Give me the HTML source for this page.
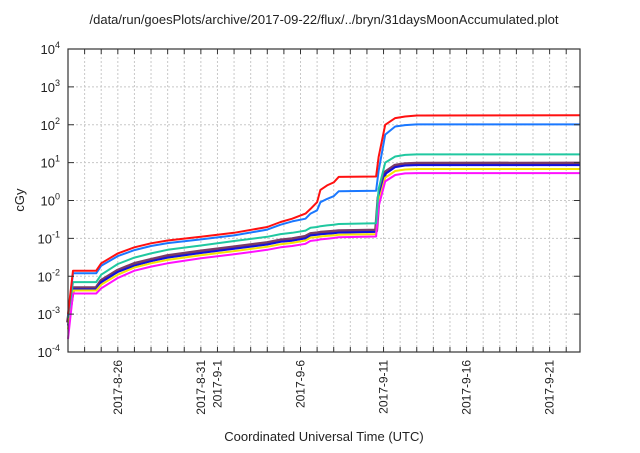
<!DOCTYPE html>
<html><head><meta charset="utf-8"><style>
body{margin:0;background:#fff;}
svg text{font-family:"Liberation Sans",sans-serif;fill:#222;}
</style></head><body>
<svg id="chart" width="640" height="448" xmlns="http://www.w3.org/2000/svg">
<text x="324" y="24" font-size="13" text-anchor="middle">/data/run/goesPlots/archive/2017-09-22/flux/../bryn/31daysMoonAccumulated.plot</text>
<text transform="translate(24,200) rotate(-90)" font-size="13" text-anchor="middle">cGy</text>
<text x="324" y="441" font-size="13" text-anchor="middle">Coordinated Universal Time (UTC)</text>
<g id="grid"></g>
<g id="series"></g>
<g id="axes"></g>
</svg>
<script>
const days = [0,0.3,1.7,2,3,4,5,6,8,10,12,12.8,13.5,14.3,14.6,15.0,15.2,15.6,16.0,16.3,18.55,18.7,19.1,19.7,20.3,21,30.83];
const redVals = [0.001,0.014,0.014,0.022,0.04,0.058,0.074,0.088,0.11,0.14,0.2,0.27,0.33,0.45,0.6,0.9,1.9,2.5,3.0,4.2,4.3,14,100,150,165,175,178];
const blueVals = [0.0009,0.012,0.012,0.019,0.034,0.049,0.063,0.075,0.094,0.12,0.17,0.23,0.28,0.33,0.45,0.55,0.9,1.1,1.3,1.75,1.8,6,55,90,98,102,102];
const tealVals = [0.0008,0.007,0.007,0.011,0.021,0.031,0.04,0.05,0.065,0.085,0.11,0.13,0.14,0.16,0.19,0.2,0.21,0.22,0.23,0.24,0.25,2,10,14.5,16,16.5,16.5];
const brownVals = [0.0006,0.0048,0.0048,0.0075,0.014,0.021,0.027,0.034,0.045,0.058,0.075,0.088,0.095,0.11,0.13,0.135,0.14,0.145,0.15,0.155,0.16,1.2,5.5,8.3,9.1,9.3,9.4];
const navyVals = [0.0005,0.0045,0.0045,0.007,0.013,0.019,0.025,0.031,0.041,0.053,0.069,0.081,0.087,0.1,0.12,0.124,0.128,0.132,0.137,0.142,0.148,1.1,5,7.6,8.4,8.6,8.6];
const yellowVals = [0.0004,0.0042,0.0042,0.006,0.011,0.017,0.022,0.027,0.036,0.046,0.06,0.07,0.076,0.088,0.105,0.108,0.112,0.116,0.12,0.124,0.13,0.9,4,6,6.6,6.8,6.8];
const magentaVals = [0.00022,0.0035,0.0035,0.0048,0.009,0.014,0.018,0.022,0.03,0.038,0.05,0.058,0.063,0.072,0.086,0.09,0.094,0.098,0.102,0.107,0.112,0.7,3.2,4.7,5.2,5.3,5.3];
const xTickDays = [3,8,9,14,19,24,29];
const xTickLabels = ["2017-8-26","2017-8-31","2017-9-1","2017-9-6","2017-9-11","2017-9-16","2017-9-21"];
const yTickExps = [-4,-3,-2,-1,0,1,2,3,4];

const L=68,R=580,T=49,B=352,D0=0,D1=30.83;
function xs(d){return L+(d-D0)/(D1-D0)*(R-L);}
function ys(v){return B-(Math.log10(v)+4)/8*(B-T);}
const NS="http://www.w3.org/2000/svg";
function mk(tag,attrs,parent){const e=document.createElementNS(NS,tag);for(const k in attrs)e.setAttribute(k,attrs[k]);parent.appendChild(e);return e;}
const grid=document.getElementById('grid'),axes=document.getElementById('axes'),ser=document.getElementById('series');
for(let d=1;d<D1;d++){
  const x=xs(d);
  const g=mk('line',{x1:x,x2:x,y1:T,y2:B,stroke:'#c8c8c8','stroke-width':1,'stroke-dasharray':'2,2'},grid);
  
  
  const t1=mk('line',{x1:x,x2:x,y1:B,y2:B-5,stroke:'#333'},axes);
  
  
  const t2=mk('line',{x1:x,x2:x,y1:T,y2:T+5,stroke:'#333'},axes);
  
  
}
yTickExps.forEach(e=>{
  const y=ys(Math.pow(10,e));
  if(e>-4&&e<4){
    const g=mk('line',{x1:L,x2:R,y1:y,y2:y,stroke:'#c8c8c8','stroke-dasharray':'2,2'},grid);
    
    
    const t=mk('line',{x1:L,x2:L+6,y1:y,y2:y,stroke:'#333'},axes);
    
    
    const t2=mk('line',{x1:R,x2:R-6,y1:y,y2:y,stroke:'#333'},axes);
    
    
  }
  const tx=mk('text',{x:L-8,y:y+5,'font-size':13,'text-anchor':'end'},axes);
  
  
  tx.textContent='10';
  const sp=mk('tspan',{dy:-6,'font-size':9},tx);
  sp.textContent=String(e);
});
xTickDays.forEach((d,i)=>{
  const x=xs(d);
  const tx=mk('text',{transform:`translate(${x+4},360) rotate(-90)`,'font-size':12,'text-anchor':'end'},axes);
  
  
  tx.textContent=xTickLabels[i];
});
const frame=mk('rect',{x:L,y:T,width:R-L,height:B-T,fill:'none',stroke:'#333','stroke-width':1.2},axes);


const seriesList=[
  ['series-brown',brownVals,'#7a3a66',4],
  ['series-navy',navyVals,'#1010e0',2],
  ['series-yellow',yellowVals,'#f5e400',2],
  ['series-magenta',magentaVals,'#ff10ff',2],
  ['series-teal',tealVals,'#20c8a0',2],
  ['series-blue',blueVals,'#1a78ff',2],
  ['series-red',redVals,'#ff1010',2]
];
seriesList.forEach(([name,vals,col,w])=>{
  const pts=days.map((d,i)=>xs(d).toFixed(1)+','+ys(vals[i]).toFixed(1)).join(' ');
  const p=mk('polyline',{points:pts,fill:'none',stroke:col,'stroke-width':w,'stroke-linejoin':'round'},ser);
  
  
});
</script>
</body></html>
